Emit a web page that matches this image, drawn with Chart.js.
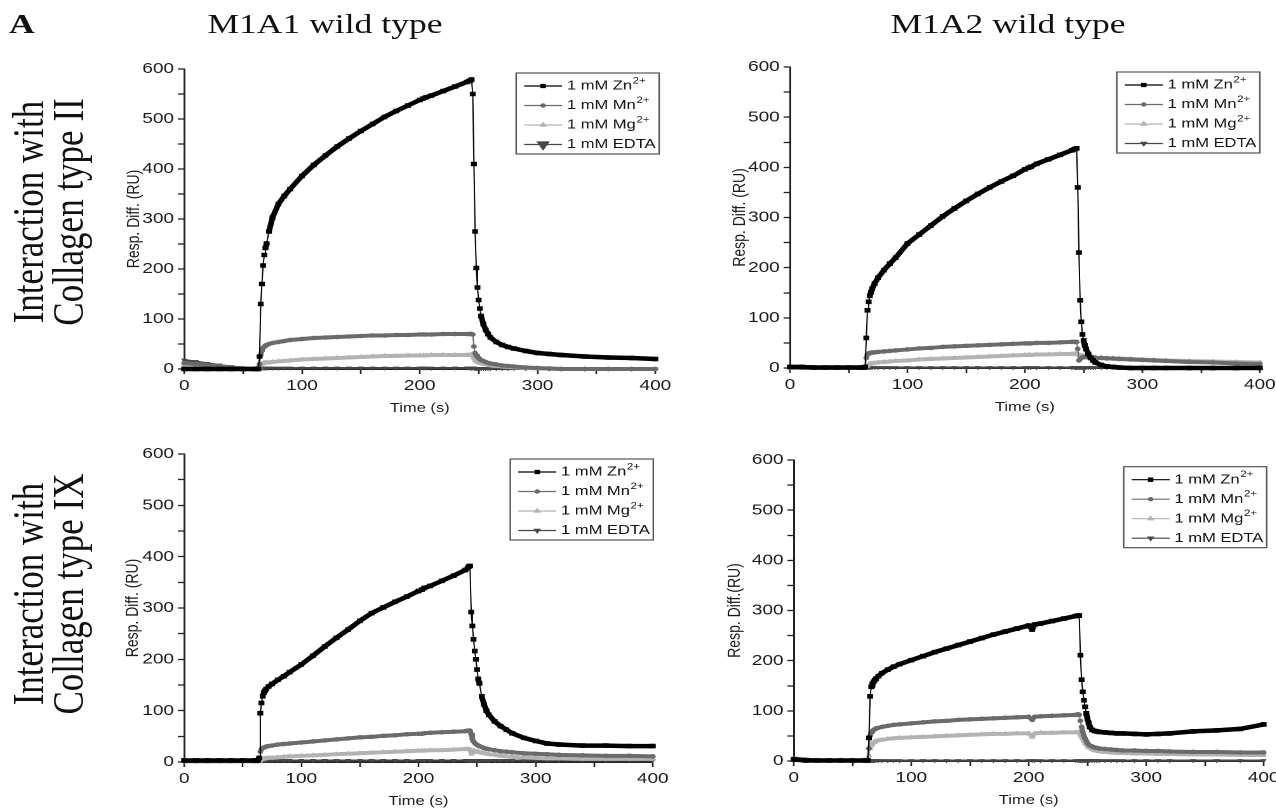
<!DOCTYPE html>
<html>
<head>
<meta charset="utf-8">
<title>M1A1 / M1A2 wild type – interaction with collagen</title>
<script src="https://cdn.jsdelivr.net/npm/chart.js@4.4.1/dist/chart.umd.min.js"></script>
<style>
    html, body { margin: 0; padding: 0; background: #ffffff; overflow: hidden; }
    /* the original figure is stretched sideways, so the whole page is drawn narrow and widened */
    #stage { position: absolute; left: 0; top: 0; width: 1005px; height: 812px; transform-origin: 0 0; transform: scaleX(1.27); }
    .serif { position: absolute; font-family: "Liberation Serif", "Times New Roman", serif; color: #111111; white-space: nowrap; }
    .heading { font-size: 28px; line-height: 28px; width: 300px; text-align: center; }
    .rowLabel { font-size: 35px; line-height: 31px; width: 300px; height: 62px; text-align: center; transform: rotate(-90deg); }
    .panel { position: absolute; }
</style>
</head>
<body>
<div id="stage">
    <div class="serif heading" id="letterA" style="font-weight: bold; text-align: left; width: 40px;">A</div>
    <div class="serif heading" id="titleM1A1">M1A1 wild type</div>
    <div class="serif heading" id="titleM1A2">M1A2 wild type</div>
    <div class="serif rowLabel" id="rowCol2">Interaction with<br>Collagen type II</div>
    <div class="serif rowLabel" id="rowCol9">Interaction with<br>Collagen type IX</div>
    <div class="panel" id="p1"><canvas></canvas></div>
    <div class="panel" id="p2"><canvas></canvas></div>
    <div class="panel" id="p3"><canvas></canvas></div>
    <div class="panel" id="p4"><canvas></canvas></div>
</div>
<script>
// sample times (s), shared by every trace
const timeS = [
    0, 10, 20, 30, 40, 50, 60,
    63, 64, 65, 66, 67, 68, 69, 70,
    72, 75, 80, 85, 90,
    100, 110, 120, 130, 140, 150, 160, 170, 180, 190, 200,
    203, 205, 210, 220, 230, 240,
    242, 243, 244, 245, 246, 247, 248, 249, 250, 251, 252,
    254, 256, 258, 260, 265, 270, 275, 280,
    290, 300, 310, 320, 340, 360, 380, 400,
];

const seriesLabels = ['1 mM Zn', '1 mM Mn', '1 mM Mg', '1 mM EDTA'];
const seriesSup = ['2+', '2+', '2+', ''];
const xTickLabels = [0, 100, 200, 300, 400];
const yTickLabels = [0, 100, 200, 300, 400, 500, 600];

// M1A1 wild type, collagen type II (RU)
const m1a1Col2Zn = [
    0, 0, 0, 0, 0, 0, 0,
    0, 25, 130, 170, 207, 228, 242, 251,
    275, 303, 330, 346, 360,
    386, 408, 427, 445, 461, 476, 490, 504, 516, 527, 538,
    541, 543, 547, 556, 565, 574,
    576, 577, 579, 550, 410, 275, 202, 163, 138, 121, 106,
    90, 78, 70, 63, 54, 48, 44, 41,
    36, 32, 30, 28, 25, 23, 22, 20,
];
const m1a1Col2Mn = [
    12, 10, 7, 5, 3, 1, 0,
    0, 10, 28, 36, 42, 45, 47, 48,
    50, 52, 54, 56, 58,
    60, 62, 63, 64, 65, 66, 67, 67, 68, 68, 69,
    69, 69, 69, 70, 70, 70,
    70, 70, 70, 69, 45, 32, 27, 24, 22, 20, 18,
    16, 14, 12, 11, 9, 7, 6, 5,
    3, 2, 1, 0, 0, 0, 0, 0,
];
const m1a1Col2Mg = [
    8, 7, 5, 3, 2, 1, 0,
    0, 3, 8, 10, 11, 12, 12, 13,
    13, 14, 15, 16, 17,
    19, 20, 21, 22, 23, 24, 25, 26, 26, 27, 27,
    27, 27, 28, 28, 28, 28,
    28, 28, 28, 27, 22, 18, 16, 14, 13, 12, 11,
    10, 9, 8, 7, 6, 5, 4, 3,
    2, 1, 1, 0, 0, 0, 0, 0,
];
const m1a1Col2Edta = [
    18, 15, 11, 8, 5, 2, 1,
    1, 1, 2, 2, 2, 2, 2, 2,
    2, 2, 2, 2, 2,
    2, 2, 2, 2, 2, 2, 2, 2, 2, 2, 2,
    2, 2, 2, 2, 2, 2,
    2, 2, 2, 2, 2, 1, 1, 1, 1, 1, 1,
    1, 1, 1, 1, 1, 1, 1, 1,
    1, 1, 0, 0, 0, 0, 0, 0,
];

// M1A2 wild type, collagen type II (RU)
const m1a2Col2Zn = [
    2, 2, 1, 1, 1, 1, 1,
    1, 2, 60, 115, 132, 144, 151, 158,
    168, 180, 195, 208, 220,
    248, 266, 284, 302, 318, 333, 347, 360, 372, 383, 396,
    399, 401, 407, 416, 425, 434,
    436, 437, 438, 360, 230, 135, 92, 67, 55, 45, 38,
    28, 20, 15, 11, 6, 3, 2, 1,
    0, 0, 0, 0, 0, 0, 0, 0,
];
const m1a2Col2Mn = [
    3, 2, 1, 1, 1, 1, 1,
    1, 1, 20, 28, 29, 30, 30, 31,
    31, 32, 33, 34, 35,
    37, 39, 40, 42, 43, 44, 45, 46, 47, 48, 49,
    49, 49, 50, 50, 51, 52,
    52, 52, 52, 38, 15, 18, 20, 21, 22, 22, 22,
    21, 21, 21, 20, 20, 19, 19, 18,
    17, 16, 15, 14, 12, 11, 9, 8,
];
const m1a2Col2Mg = [
    0, 0, 0, 0, 0, 0, 0,
    0, 0, 3, 5, 7, 8, 9, 9,
    10, 11, 12, 13, 14,
    15, 17, 18, 19, 20, 21, 22, 23, 24, 25, 26,
    26, 26, 27, 27, 28, 28,
    28, 28, 28, 27, 26, 25, 24, 24, 23, 23, 23,
    22, 22, 21, 21, 20, 20, 19, 19,
    18, 17, 16, 15, 14, 13, 12, 11,
];
const m1a2Col2Edta = [
    2, 3, 2, 1, 1, 1, 1,
    1, 1, 1, 1, 1, 1, 1, 1,
    1, 1, 1, 1, 1,
    1, 1, 1, 1, 1, 1, 1, 1, 1, 1, 1,
    1, 1, 1, 1, 1, 1,
    1, 1, 1, 1, 1, 1, 1, 1, 1, 1, 1,
    1, 1, 1, 1, 1, 1, 1, 1,
    1, 1, 1, 1, 0, 0, 0, 0,
];

// M1A1 wild type, collagen type IX (RU)
const m1a1Col9Zn = [
    3, 3, 3, 3, 3, 3, 3,
    3, 8, 95, 115, 128, 135, 139, 142,
    147, 152, 160, 167, 175,
    190, 207, 225, 242, 258, 275, 290, 301, 312, 322, 333,
    336, 339, 343, 353, 363, 374,
    378, 381, 382, 292, 265, 239, 216, 200, 180, 162, 153,
    128, 112, 100, 92, 79, 70, 63, 56,
    47, 41, 36, 34, 32, 32, 31, 31,
];
const m1a1Col9Mn = [
    2, 2, 2, 2, 2, 2, 2,
    2, 8, 20, 25, 27, 28, 29, 30,
    31, 32, 34, 35, 36,
    38, 40, 42, 44, 46, 48, 49, 51, 52, 54, 55,
    55, 56, 57, 58, 59, 60,
    61, 61, 61, 54, 44, 40, 37, 35, 33, 32, 31,
    29, 27, 26, 25, 23, 21, 20, 19,
    17, 16, 15, 14, 13, 12, 12, 11,
];
const m1a1Col9Mg = [
    1, 1, 1, 1, 1, 1, 1,
    1, 2, 4, 5, 6, 6, 7, 7,
    8, 8, 9, 10, 11,
    12, 13, 14, 15, 16, 17, 18, 19, 20, 21, 22,
    22, 22, 23, 23, 24, 25,
    25, 25, 24, 16, 21, 22, 21, 20, 20, 19, 19,
    18, 17, 16, 15, 14, 12, 11, 10,
    9, 8, 7, 7, 6, 6, 6, 6,
];
const m1a1Col9Edta = [
    4, 3, 3, 3, 3, 3, 3,
    3, 3, 3, 3, 3, 3, 3, 3,
    3, 3, 3, 3, 3,
    3, 3, 3, 3, 3, 3, 3, 3, 3, 3, 3,
    3, 3, 3, 3, 3, 3,
    3, 3, 3, 3, 3, 3, 3, 3, 3, 3, 3,
    3, 3, 3, 3, 3, 3, 3, 3,
    3, 3, 3, 3, 3, 3, 3, 3,
];

// M1A2 wild type, collagen type IX (RU)
const m1a2Col9Zn = [
    3, 1, 1, 1, 1, 1, 1,
    1, 46, 129, 148, 154, 158, 161, 164,
    169, 175, 182, 188, 193,
    201, 209, 217, 224, 231, 238, 245, 252, 258, 264, 270,
    262, 272, 274, 279, 284, 289,
    290, 290, 211, 162, 138, 121, 108, 95, 84, 76, 68,
    62, 60, 59, 58, 57, 56, 55, 55,
    54, 53, 54, 55, 59, 61, 64, 73,
];
const m1a2Col9Mn = [
    5, 3, 1, 1, 1, 1, 1,
    1, 25, 50, 57, 60, 62, 63, 65,
    66, 68, 70, 72, 73,
    75, 77, 79, 80, 82, 83, 84, 85, 86, 87, 88,
    82, 88, 89, 90, 91, 92,
    93, 92, 80, 68, 58, 50, 45, 40, 36, 33, 31,
    29, 27, 26, 25, 24, 23, 22, 21,
    21, 20, 20, 19, 18, 18, 17, 17,
];
const m1a2Col9Mg = [
    3, 1, 1, 1, 1, 1, 1,
    1, 10, 25, 32, 35, 37, 38, 40,
    41, 42, 44, 45, 46,
    47, 48, 49, 50, 51, 52, 53, 54, 54, 55, 55,
    48, 55, 56, 56, 57, 57,
    57, 57, 52, 48, 44, 40, 36, 33, 30, 28, 26,
    23, 21, 20, 19, 18, 17, 16, 16,
    15, 15, 14, 14, 13, 13, 12, 12,
];
const m1a2Col9Edta = [
    5, 3, 1, 1, 1, 1, 1,
    1, 1, 1, 1, 1, 1, 1, 1,
    1, 1, 1, 1, 1,
    1, 1, 1, 1, 1, 1, 1, 1, 1, 1, 1,
    1, 1, 1, 1, 1, 1,
    1, 1, 1, 1, 1, 1, 1, 1, 1, 1, 1,
    1, 1, 1, 1, 1, 1, 1, 1,
    1, 1, 1, 1, 1, 1, 1, 1,
];

const SX = 1.27;
const FONT = '"Liberation Sans", Arial, sans-serif';

Chart.defaults.font.family = FONT;
Chart.defaults.color = '#1a1a1a';

const traceStyle = [
    { color: '#000000', marker: 'rect', radius: 2.7, width: 4.5, legendRadius: 2.2 },
    { color: '#6b6b6b', marker: 'circle', radius: 1.9, width: 4, legendRadius: 1.6 },
    { color: '#b3b3b3', marker: 'triangle', radius: 2.3, width: 4, legendRadius: 2.2 },
    { color: '#474747', marker: 'triangle', radius: 2, width: 2, legendRadius: 2.2 },
];

// plot area corners in page pixels, legend offsets in stage units
const panels = [
    { id: 'p1', L: 184.3, R: 655, T: 69.3, B: 369.3, yW: 48, dx: 3, dy: 4, bigEdta: true,
      yTitle: 'Resp. Diff. (RU)', series: [m1a1Col2Zn, m1a1Col2Mn, m1a1Col2Mg, m1a1Col2Edta] },
    { id: 'p2', L: 790, R: 1260, T: 66.7, B: 367.3, yW: 48, dx: 0, dy: 5, bigEdta: false,
      yTitle: 'Resp. Diff. (RU)', series: [m1a2Col2Zn, m1a2Col2Mn, m1a2Col2Mg, m1a2Col2Edta] },
    { id: 'p3', L: 184.5, R: 653.5, T: 454.3, B: 762.7, yW: 49, dx: 0.4, dy: 5, bigEdta: false,
      yTitle: 'Resp. Diff. (RU)', series: [m1a1Col9Zn, m1a1Col9Mn, m1a1Col9Mg, m1a1Col9Edta] },
    { id: 'p4', L: 793.7, R: 1263, T: 460, B: 760.7, yW: 55, dx: 2.4, dy: 6.7, bigEdta: false,
      yTitle: 'Resp. Diff.(RU)', series: [m1a2Col9Zn, m1a2Col9Mn, m1a2Col9Mg, m1a2Col9Edta] },
];

const PAD_TOP = 12;
const PAD_RIGHT = 16;
const X_AXIS_H = 47;

const place = (el, left, top, width, height) => {
    el.style.left = left + 'px';
    el.style.top = top + 'px';
    if (width !== undefined) el.style.width = width + 'px';
    if (height !== undefined) el.style.height = height + 'px';
};

place(document.getElementById('letterA'), 7, 10);
place(document.getElementById('titleM1A1'), 325 / SX - 150, 10);
place(document.getElementById('titleM1A2'), 1008 / SX - 150, 10);
place(document.getElementById('rowCol2'), 37.6 - 150, 212 - 31);
place(document.getElementById('rowCol9'), 37.6 - 150, 594 - 31);

// legend with a frame, line samples and raised charges
const boxLegend = {
    id: 'boxLegend',
    afterDatasetsDraw(chart, args, opts) {
        const { ctx, chartArea } = chart;
        const width = 112.6;
        const height = 81;
        const left = chartArea.right + opts.dx - width;
        const top = chartArea.top + opts.dy;

        ctx.save();
        ctx.fillStyle = '#ffffff';
        ctx.fillRect(left, top, width, height);
        ctx.lineWidth = 1.2;
        ctx.strokeStyle = '#555555';
        ctx.strokeRect(left, top, width, height);

        chart.data.datasets.forEach((ds, i) => {
            const y = top + 13 + i * 19.5;
            const style = traceStyle[i];

            ctx.strokeStyle = style.color;
            ctx.fillStyle = style.color;
            ctx.lineWidth = 1.2;
            ctx.beginPath();
            ctx.moveTo(left + 6.3, y);
            ctx.lineTo(left + 36.2, y);
            ctx.stroke();

            const radius = i === 3 && opts.bigEdta ? 5 : style.legendRadius;
            Chart.helpers.drawPoint(ctx, {
                pointStyle: style.marker,
                rotation: i === 3 ? 180 : 0,
                radius,
                borderWidth: 1,
            }, left + 21.2, y);

            ctx.fillStyle = '#111111';
            ctx.textBaseline = 'middle';
            ctx.textAlign = 'left';
            ctx.font = '13px ' + FONT;
            ctx.fillText(seriesLabels[i], left + 40, y);

            if (seriesSup[i]) {
                const w = ctx.measureText(seriesLabels[i]).width;
                ctx.font = '9px ' + FONT;
                ctx.fillText(seriesSup[i], left + 40 + w + 0.5, y - 5);
            }
        });
        ctx.restore();
    },
};

// dense stretches in the original look like a thick band, jumps show a thin line
const steep = (c) => Math.abs(c.p1.y - c.p0.y) > 6 * Math.abs(c.p1.x - c.p0.x);

const axisCommon = (labels, titleText, titleSize) => ({
    type: 'linear',
    ticks: {
        stepSize: 50,
        autoSkip: false,
        maxRotation: 0,
        padding: 3,
        color: '#1a1a1a',
        font: { size: 15 },
        callback: (v) => (labels.includes(v) ? String(v) : ''),
    },
    grid: {
        display: true,
        drawOnChartArea: false,
        drawTicks: true,
        tickLength: 5,
        tickColor: '#222222',
        tickWidth: 1.3,
    },
    border: { display: true, color: '#222222', width: 1.5 },
    title: {
        display: true,
        text: titleText,
        color: '#1a1a1a',
        padding: 0,
        font: { size: titleSize },
    },
});

panels.forEach((p) => {
    const left = p.L / SX;
    const right = p.R / SX;
    const box = document.getElementById(p.id);
    place(box, left - p.yW, p.T - PAD_TOP,
        Math.round(right - left + p.yW + PAD_RIGHT),
        Math.round(p.B - p.T + PAD_TOP + X_AXIS_H));

    const datasets = p.series.map((values, i) => {
        const style = traceStyle[i];
        return {
            label: seriesLabels[i] + seriesSup[i],
            data: timeS.map((t, k) => ({ x: t, y: values[k] })),
            borderColor: style.color,
            backgroundColor: style.color,
            pointStyle: style.marker,
            pointRotation: i === 3 ? 180 : 0,
            pointRadius: style.radius,
            pointBorderWidth: 0.8,
            borderWidth: style.width,
            borderJoinStyle: 'round',
            borderCapStyle: 'round',
            segment: {
                borderWidth: (c) => (steep(c) ? 1 : style.width),
            },
            tension: 0,
            clip: 6,
        };
    });

    const xAxis = axisCommon(xTickLabels, 'Time (s)', 13);
    xAxis.min = 0;
    xAxis.max = 400;
    xAxis.afterFit = (scale) => { scale.height = X_AXIS_H; };

    const yAxis = axisCommon(yTickLabels, p.yTitle, 14);
    yAxis.min = 0;
    yAxis.max = 600;
    yAxis.position = 'left';
    yAxis.afterFit = (scale) => { scale.width = p.yW; };

    new Chart(box.querySelector('canvas'), {
        type: 'line',
        data: { datasets },
        plugins: [boxLegend],
        options: {
            responsive: true,
            maintainAspectRatio: false,
            animation: false,
            devicePixelRatio: 2,
            layout: { padding: { top: PAD_TOP, right: PAD_RIGHT, left: 0, bottom: 0 } },
            plugins: {
                legend: { display: false },
                tooltip: { enabled: false },
                boxLegend: { dx: p.dx, dy: p.dy, bigEdta: p.bigEdta },
            },
            scales: { x: xAxis, y: yAxis },
        },
    });
});
</script>
</body>
</html>
